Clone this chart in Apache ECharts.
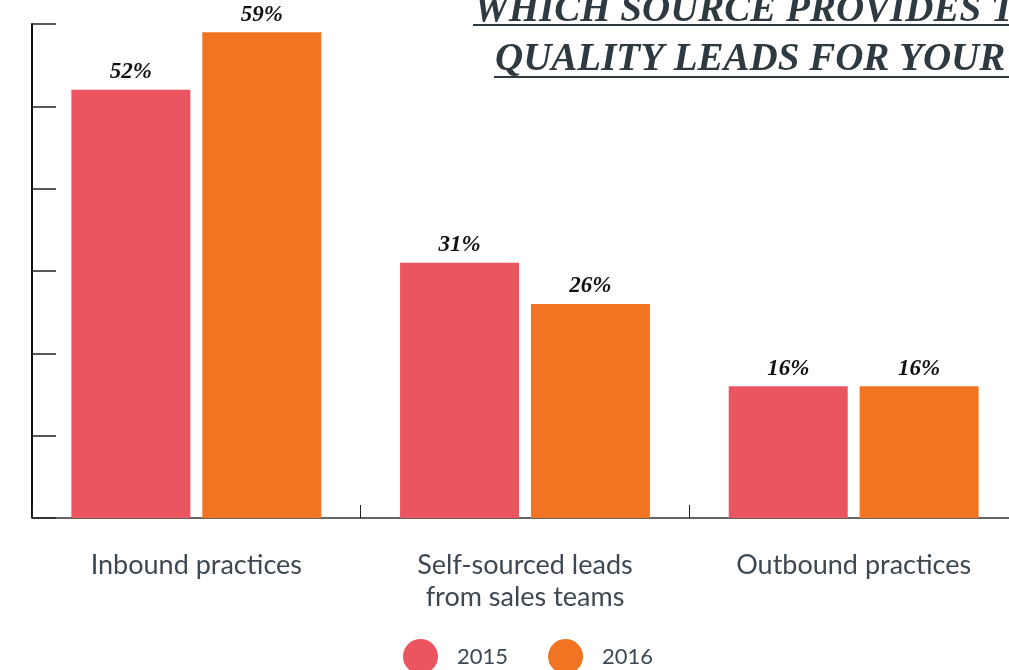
<!DOCTYPE html>
<html>
<head>
<meta charset="utf-8">
<script src="https://cdn.jsdelivr.net/npm/echarts@6/dist/echarts.min.js"></script>
<style>
html,body{margin:0;padding:0;background:#fff;}
#chart{width:1009px;height:670px;}
</style>
</head>
<body>
<div id="chart"></div>
<script>
const categories = ['Inbound practices', 'Self-sourced leads\nfrom sales teams', 'Outbound practices'];
const seriesNames = ['2015', '2016'];
const values2015 = [52, 31, 16];
const values2016 = [59, 26, 16];
const titleLines = ['WHICH SOURCE PROVIDES THE', 'QUALITY LEADS FOR YOUR'];

const chart = echarts.init(document.getElementById('chart'), null, {renderer: 'canvas'});
const labelStyle = {
  show: true, position: 'top', distance: 6,
  formatter: '{c}%',
  fontFamily: 'Liberation Serif', fontStyle: 'italic', fontWeight: 'bold',
  fontSize: 23, color: '#111'
};
const titleColor = '#2f3a40';
chart.setOption({
  animation: false,
  backgroundColor: '#fff',
  grid: {left: 32, top: 24, bottom: 152, width: 986, containLabel: false, outerBoundsMode: 'none'},
  legend: {
    data: seriesNames,
    left: 398, top: 634,
    icon: 'circle', itemWidth: 35, itemHeight: 35, itemGap: 40,
    textStyle: {fontFamily: 'Lato', fontSize: 22, color: '#3d4852', padding: [0, 0, 0, 14]}
  },
  xAxis: {
    type: 'category', data: categories,
    axisLine: {show: true, lineStyle: {color: '#666', width: 2}},
    axisTick: {show: true, inside: true, length: 13, lineStyle: {color: '#222', width: 1}},
    axisLabel: {fontFamily: 'Lato', fontSize: 27, color: '#3d4852', margin: 31, lineHeight: 32}
  },
  yAxis: {
    type: 'value', min: 0, max: 60, interval: 10,
    axisLine: {show: true, lineStyle: {color: '#111', width: 2}},
    axisTick: {show: true, inside: true, length: 24, lineStyle: {color: '#222', width: 1.5}},
    axisLabel: {show: false},
    splitLine: {show: false}
  },
  series: [
    {name: seriesNames[0], type: 'bar', data: values2015, barWidth: 119, barGap: '10%',
     itemStyle: {color: '#eb5560'}, label: labelStyle},
    {name: seriesNames[1], type: 'bar', data: values2016, barWidth: 119, barGap: '10%',
     itemStyle: {color: '#f07422'}, label: labelStyle}
  ],
  graphic: [
    {type: 'text', left: 474, top: -9, style: {text: titleLines[0], font: 'italic bold 39px "Liberation Serif"', fill: titleColor}},
    {type: 'text', left: 495, top: 40, style: {text: titleLines[1], font: 'italic bold 39px "Liberation Serif"', fill: titleColor}},
    {type: 'line', shape: {x1: 473, y1: 25, x2: 1009, y2: 25}, style: {stroke: titleColor, lineWidth: 2}},
    {type: 'line', shape: {x1: 494, y1: 77, x2: 1009, y2: 77}, style: {stroke: titleColor, lineWidth: 2}}
  ]
});
</script>
</body>
</html>
